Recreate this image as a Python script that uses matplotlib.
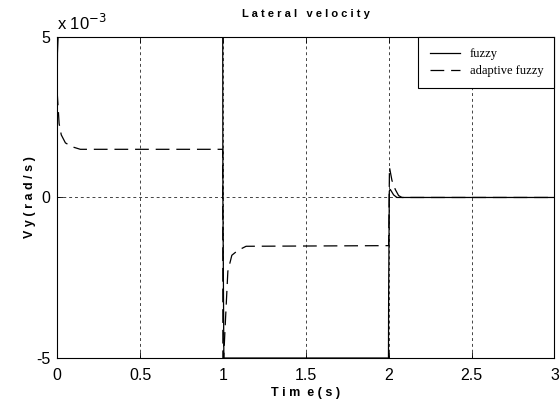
import numpy as np
import matplotlib.pyplot as plt

# values (velocity in units of 1e-3 rad/s)
t_fuzzy = [0.0, 0.002, 0.006, 0.999, 1.0, 1.006, 1.999, 2.0, 2.004, 2.01, 2.03, 2.05, 3.0]
v_fuzzy = [2.8, 4.5, 5.0, 5.0, 0.0, -5.0, -5.0, -3.0, 0.2, 0.25, 0.08, 0.0, 0.0]

t_adapt = [0.0, 0.005, 0.012, 0.025, 0.05, 0.09, 0.14, 0.999, 1.0, 1.005, 1.012,
           1.03, 1.054, 1.09, 1.14, 1.999, 2.0, 2.005, 2.02, 2.04, 2.06, 2.08, 3.0]
v_adapt = [3.3, 2.9, 2.3, 1.95, 1.7, 1.58, 1.5, 1.5, -5.0, -5.0, -4.2,
           -2.3, -1.8, -1.65, -1.52, -1.5, -1.5, 0.94, 0.53, 0.25, 0.06, 0.0, 0.0]

xticks = [0, 0.5, 1, 1.5, 2, 2.5, 3]
xlabels = ['0', '0.5', '1', '1.5', '2', '2.5', '3']
yticks = [-5e-3, 0, 5e-3]
ylabels = ['-5', '0', '5']

fig = plt.figure(figsize=(5.6, 4.08), dpi=100)
ax = fig.add_axes([0.102, 0.1225, 0.888, 0.787])

ax.plot(np.array(t_fuzzy), np.array(v_fuzzy) * 1e-3, color='black', lw=0.9, label='fuzzy')
ax.plot(np.array(t_adapt), np.array(v_adapt) * 1e-3, color='black', lw=0.9,
        dashes=(11, 5.5), label='adaptive fuzzy')

ax.set_xlim(0, 3)
ax.set_ylim(-5e-3, 5e-3)
ax.set_xticks(xticks)
ax.set_xticklabels(xlabels, fontsize=11.5, family='Liberation Sans')
ax.set_yticks(yticks)
ax.set_yticklabels(ylabels, fontsize=11.5, family='Liberation Sans')
ax.tick_params(direction='in', length=4, top=True, right=True, width=0.6)
ax.tick_params(axis='x', pad=7)
ax.tick_params(axis='y', pad=5)
ax.grid(True, color='#444444', lw=0.7, linestyle=(0, (3, 3)))
for s in ax.spines.values():
    s.set_linewidth(0.8)

ax.text(0.0, 1.012, 'x 10$^{-3}$', transform=ax.transAxes, fontsize=12,
        family='Liberation Sans', ha='left', va='bottom')
ax.set_title('L a t e r a l   v e l o c i t y', fontsize=8, fontweight='bold',
             family='Liberation Sans', pad=14)
ax.set_ylabel('V y ( r a d / s )', fontsize=9, fontweight='bold', family='Liberation Sans', labelpad=0)
ax.set_xlabel('T i m  e ( s )', fontsize=9, fontweight='bold', family='Liberation Sans', labelpad=3)

leg = ax.legend(loc='upper right', borderaxespad=0, fancybox=False, framealpha=1,
                edgecolor='black', prop={'family': 'Liberation Serif', 'size': 9},
                handlelength=2.4, borderpad=0.9, labelspacing=0.4)
leg.get_frame().set_linewidth(0.8)

fig.savefig('out.png', dpi=100)
